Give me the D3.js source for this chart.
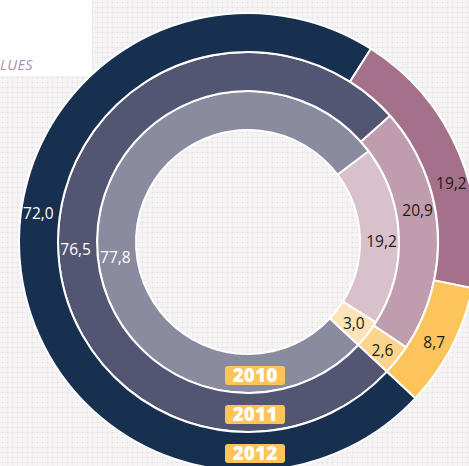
<!DOCTYPE html>
<html>
<head>
<meta charset="utf-8">
<script src="https://cdn.jsdelivr.net/npm/d3@7"></script>
<style>
  html, body { margin: 0; padding: 0; background: #f3f1f2; }
  svg { display: block; }
</style>
</head>
<body>
<svg id="chart" width="469" height="466"></svg>
<script>
// Share of each segment per year (percent)
const years = ["2010", "2011", "2012"];
const segments = ["A", "B", "C"];
const share2010 = [77.8, 19.2, 3.0];
const share2011 = [76.5, 20.9, 2.6];
const share2012 = [72.0, 19.2, 8.7];

// Ring colours, inner ring first
const ringColors = [
  ["#8b8b9f", "#d8c1cb", "#fde3b9"],
  ["#535673", "#c09dae", "#fdd48c"],
  ["#17304f", "#a4708a", "#fcc45a"]
];
const labelColors = ["#ffffff", "#1a1a1a", "#1a1a1a"];
// small angular nudges (degrees) so the value labels don't crowd each other
const labelNudge = [
  [-9.5, 2, 0],
  [-3, -6.5, 0.5],
  [15, 7, 1]
];

const W = 469, H = 466;
const cx = 248, cy = 242;
const outerR = 229, band = 39;
const holeR = outerR - band * 3;
const start = 133 * Math.PI / 180;

const svg = d3.select("#chart");
const defs = svg.append("defs");
const pat = defs.append("pattern")
  .attr("id", "grain").attr("width", 5).attr("height", 5)
  .attr("patternUnits", "userSpaceOnUse");
pat.append("rect").attr("width", 5).attr("height", 5).attr("fill", "#f5f3f4");
pat.append("rect").attr("x", 2).attr("width", 1).attr("height", 5).attr("fill", "#f1eef1");
pat.append("rect").attr("y", 2).attr("width", 5).attr("height", 1).attr("fill", "#f1eef1");
pat.append("rect").attr("x", 2).attr("y", 2).attr("width", 1).attr("height", 1).attr("fill", "#e1dde1");

svg.append("rect").attr("width", W).attr("height", H).attr("fill", "url(#grain)");

// title box in the top-left corner
svg.append("rect").attr("x", 0).attr("y", 0).attr("width", 92).attr("height", 76).attr("fill", "#ffffff");
svg.append("text")
  .attr("x", 0).attr("y", 70)
  .attr("font-family", "'Open Sans', sans-serif")
  .attr("font-style", "italic")
  .attr("font-size", 14.5)
  .attr("letter-spacing", 0.3)
  .attr("fill", "#a88fb3")
  .text("LUES");

const fmt = d3.formatLocale({ decimal: ",", thousands: ".", grouping: [3], currency: ["", "€"] }).format(".1f");

const pie = d3.pie().sort(null).startAngle(start).endAngle(start + 2 * Math.PI);
const data = [share2010, share2011, share2012];

const g = svg.append("g").attr("transform", `translate(${cx},${cy})`);

data.forEach((vals, i) => {
  const r0 = holeR + band * i, r1 = r0 + band;
  const arc = d3.arc().innerRadius(r0).outerRadius(r1);
  const arcs = pie(vals);
  const ring = g.append("g").attr("class", "ring-" + years[i]);
  ring.selectAll("path")
    .data(arcs)
    .join("path")
    .attr("d", arc)
    .attr("fill", (d, j) => ringColors[i][j])
    .attr("stroke", "#ffffff")
    .attr("stroke-width", 2);

  const rl = (r0 + r1) / 2 + 2;
  ring.selectAll("text.value")
    .data(arcs)
    .join("text")
    .attr("class", "value")
    .attr("transform", (d, j) => {
      const a = (d.startAngle + d.endAngle) / 2 + labelNudge[i][j] * Math.PI / 180;
      return `translate(${rl * Math.sin(a)},${-rl * Math.cos(a)})`;
    })
    .attr("text-anchor", "middle")
    .attr("dy", "0.36em")
    .attr("font-family", "'Open Sans', sans-serif")
    .attr("font-size", 15.5)
    .attr("fill", (d, j) => labelColors[j])
    .text(d => fmt(d.data));

  // year tag at the bottom of the ring
  const ty = (r0 + r1) / 2 + 2;
  const tag = ring.append("g").attr("transform", `translate(7,${ty})`);
  tag.append("rect")
    .attr("x", -30).attr("y", -9.5).attr("width", 60).attr("height", 19)
    .attr("rx", 3).attr("fill", "#fcc45a");
  tag.append("text")
    .attr("text-anchor", "middle").attr("dy", "0.36em")
    .attr("font-family", "'Open Sans', sans-serif")
    .attr("font-weight", 800)
    .attr("font-size", 19)
    .attr("fill", "#ffffff")
    .text(years[i]);
});
</script>
</body>
</html>
